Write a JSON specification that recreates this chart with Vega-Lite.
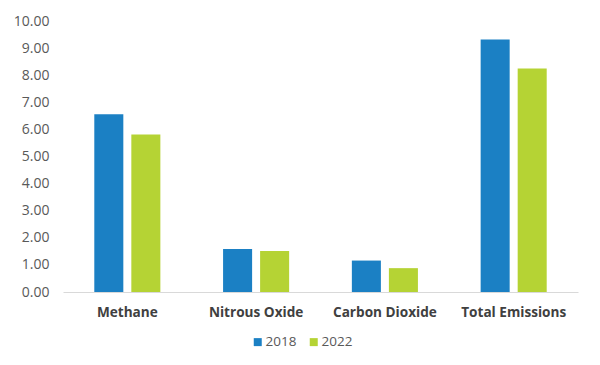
{
  "$schema": "https://vega.github.io/schema/vega-lite/v6.json",
  "width": 515,
  "height": 271,
  "autosize": {"type": "none"},
  "padding": {"left": 63, "top": 21, "right": 22, "bottom": 73},
  "background": "white",
  "data": {
    "values": [
      {"gas": "Methane", "year": "2018", "value": 6.56},
      {"gas": "Methane", "year": "2022", "value": 5.81},
      {"gas": "Nitrous Oxide", "year": "2018", "value": 1.59},
      {"gas": "Nitrous Oxide", "year": "2022", "value": 1.51},
      {"gas": "Carbon Dioxide", "year": "2018", "value": 1.16},
      {"gas": "Carbon Dioxide", "year": "2022", "value": 0.88},
      {"gas": "Total Emissions", "year": "2018", "value": 9.32},
      {"gas": "Total Emissions", "year": "2022", "value": 8.25}
    ]
  },
  "mark": {"type": "bar"},
  "encoding": {
    "x": {
      "field": "gas",
      "type": "nominal",
      "sort": ["Methane", "Nitrous Oxide", "Carbon Dioxide", "Total Emissions"],
      "scale": {"paddingInner": 0.487, "paddingOuter": 0.243},
      "axis": {
        "title": null,
        "labelAngle": 0,
        "ticks": false,
        "domainColor": "#d9d9d9",
        "domainWidth": 1,
        "labelFont": "Open Sans",
        "labelFontWeight": "bold",
        "labelFontSize": 13.6,
        "labelColor": "#404040",
        "labelPadding": 13,
        "grid": false
      }
    },
    "xOffset": {
      "field": "year",
      "type": "nominal",
      "scale": {"paddingInner": 0.216, "paddingOuter": 0}
    },
    "y": {
      "field": "value",
      "type": "quantitative",
      "scale": {"domain": [0, 10]},
      "axis": {
        "title": null,
        "values": [0, 1, 2, 3, 4, 5, 6, 7, 8, 9, 10],
        "format": ".2f",
        "domain": false,
        "ticks": false,
        "grid": false,
        "labelFont": "Open Sans",
        "labelFontSize": 14,
        "labelColor": "#595959",
        "labelPadding": 14
      }
    },
    "color": {
      "field": "year",
      "type": "nominal",
      "scale": {"domain": ["2018", "2022"], "range": ["#1b80c4", "#b5d334"]},
      "legend": {
        "title": null,
        "orient": "none",
        "legendX": 188,
        "legendY": 314,
        "direction": "horizontal",
        "symbolType": "square",
        "symbolSize": 64,
        "symbolStrokeWidth": 0,
        "labelFont": "Open Sans",
        "labelFontSize": 13.5,
        "labelColor": "#595959",
        "labelOffset": 1,
        "columnPadding": 10
      }
    }
  },
  "config": {"view": {"stroke": null}}
}
